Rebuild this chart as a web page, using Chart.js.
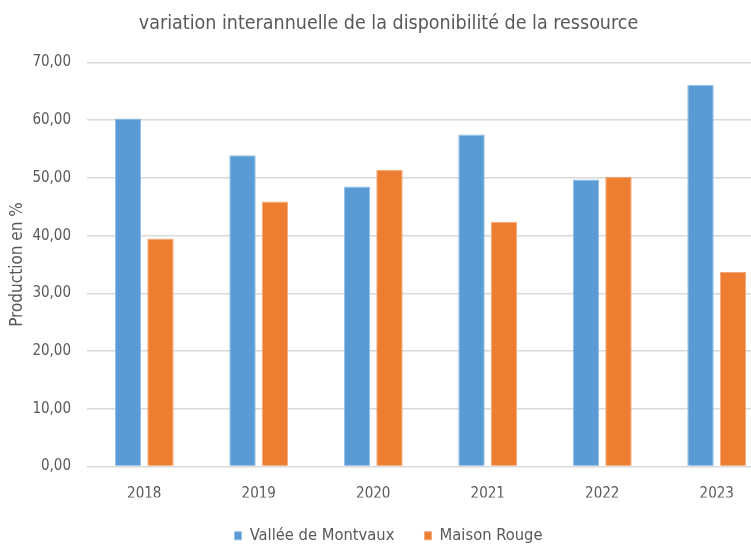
<!DOCTYPE html>
<html>
<head>
<meta charset="utf-8">
<script src="https://cdn.jsdelivr.net/npm/chart.js@4"></script>
<style>
  html, body { margin: 0; padding: 0; background: #fff; overflow: hidden; }
  #wrap { width: 786px; height: 544px; }
</style>
</head>
<body>
<div id="wrap"><canvas id="chart"></canvas></div>
<script>
const years = ["2018", "2019", "2020", "2021", "2022", "2023"];
const montvaux = [60.3, 53.9, 48.5, 57.5, 49.7, 66.1];
const maisonRouge = [39.5, 45.9, 51.4, 42.4, 50.2, 33.7];
const yTicks = ["0,00", "10,00", "20,00", "30,00", "40,00", "50,00", "60,00", "70,00"];

const grey = "#595959";
const fontFamily = "'DejaVu Sans Condensed', 'DejaVu Sans', sans-serif";

const ctx = document.getElementById("chart").getContext("2d");
const chart = new Chart(ctx, {
  type: "bar",
  data: {
    labels: years,
    datasets: [{
      label: "Vallée de Montvaux",
      data: montvaux,
      backgroundColor: "#5B9BD5",
      borderColor: "#92bfe7",
      borderWidth: 1,
      categoryPercentage: 0.567,
      barPercentage: 0.815
    }, {
      label: "Maison Rouge",
      data: maisonRouge,
      backgroundColor: "#ED7D31",
      borderColor: "#f5a877",
      borderWidth: 1,
      categoryPercentage: 0.567,
      barPercentage: 0.815
    }]
  },
  options: {
    responsive: true,
    maintainAspectRatio: false,
    animation: false,
    layout: { padding: { left: 3, right: 12, top: 0, bottom: -10 } },
    plugins: {
      title: {
        display: true,
        text: "variation interannuelle de la disponibilité de la ressource",
        color: grey,
        font: { family: fontFamily, size: 19.5, weight: "normal" },
        padding: { top: 12, bottom: 27 }
      },
      legend: {
        position: "bottom",
        labels: {
          color: grey,
          font: { family: fontFamily, size: 16.4 },
          boxWidth: 7,
          boxHeight: 8,
          padding: 30
        }
      },
      tooltip: { enabled: false }
    },
    scales: {
      x: {
        grid: { display: false, drawTicks: false },
        border: { display: false },
        ticks: { color: grey, font: { family: fontFamily, size: 15 }, padding: 19 },
        afterFit: (scale) => { scale.height = 31; }
      },
      y: {
        min: 0,
        max: 70,
        ticks: {
          stepSize: 10,
          color: grey,
          font: { family: fontFamily, size: 15 },
          padding: 16,
          callback: (value, i) => yTicks[i]
        },
        grid: { color: "#d9d9d9", lineWidth: 1.5, drawTicks: false },
        border: { display: false },
        title: {
          display: true,
          text: "Production en %",
          color: grey,
          font: { family: fontFamily, size: 17 }
        },
        afterFit: (scale) => { scale.width = 84; }
      }
    }
  }
});
</script>
</body>
</html>
